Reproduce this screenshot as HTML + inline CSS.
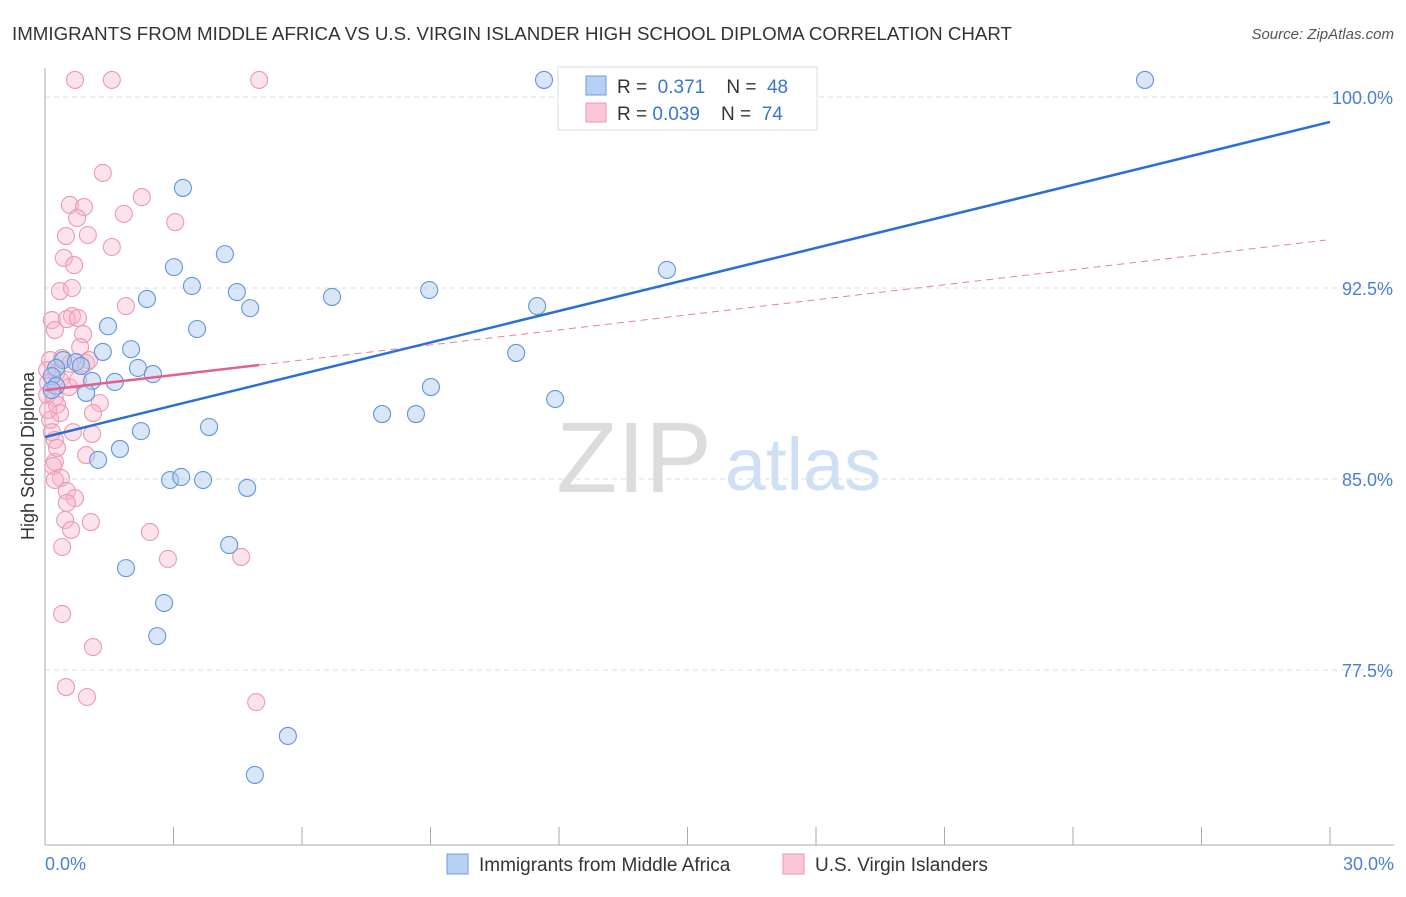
<!DOCTYPE html>
<html><head><meta charset="utf-8"><style>
body{margin:0;background:#fff;font-family:"Liberation Sans",sans-serif;}
svg text{font-family:"Liberation Sans",sans-serif;}
</style></head><body>
<svg id="chart" width="1406" height="892" xmlns="http://www.w3.org/2000/svg">
<text x="12" y="40" font-size="18" fill="#333" textLength="1000" lengthAdjust="spacingAndGlyphs">IMMIGRANTS FROM MIDDLE AFRICA VS U.S. VIRGIN ISLANDER HIGH SCHOOL DIPLOMA CORRELATION CHART</text>
<text x="1394" y="39" font-size="15" fill="#555" text-anchor="end" font-style="italic">Source: ZipAtlas.com</text>
<g>
<text x="634" y="492" font-size="100" fill="#dcdcdc" text-anchor="middle" font-family="Liberation Serif, serif">ZIP</text>
<text x="803" y="490" font-size="74" fill="#cfe0f5" text-anchor="middle">atlas</text>
</g>
<g id="grid"></g>
<g id="axes"></g>
<g id="marks"></g>
<text transform="translate(34,456) rotate(-90)" font-size="18" fill="#333" text-anchor="middle">High School Diploma</text>
<g>
<rect x="558" y="67" width="259" height="63" fill="#fff" stroke="#ddd"/>
<rect x="586" y="76" width="20" height="19" fill="#b8d0f3" stroke="#6d9be0"/>
<rect x="586" y="103" width="20" height="19" fill="#f9c6d5" stroke="#eb9ab4"/>
<text x="617" y="93" font-size="19" fill="#333">R = <tspan fill="#3a74d4">&#160;0.371</tspan>&#160;&#160;&#160; N = <tspan fill="#3a74d4">&#160;48</tspan></text>
<text x="617" y="120" font-size="19" fill="#333">R = <tspan fill="#3a74d4">0.039</tspan>&#160;&#160;&#160; N = <tspan fill="#3a74d4">&#160;74</tspan></text>
</g>
<g>
<rect x="447" y="854" width="21" height="20" fill="#b8d0f3" stroke="#6d9be0"/>
<text x="479" y="871" font-size="19" fill="#333">Immigrants from Middle Africa</text>
<rect x="783" y="854" width="21" height="20" fill="#f9c6d5" stroke="#eb9ab4"/>
<text x="815" y="871" font-size="19" fill="#333">U.S. Virgin Islanders</text>
</g>
</svg>
<script>
const yTicks=[100,92.5,85,77.5];
const yTickLabels=["100.0%","92.5%","85.0%","77.5%"];
const xEdgeLabels=["0.0%","30.0%"];
const blueX=[11.65,25.68,3.22,4.20,3.01,14.52,3.43,4.48,2.38,6.70,8.97,4.79,11.49,1.47,3.55,2.01,1.35,11.00,0.42,0.72,2.17,2.52,0.84,0.26,0.16,1.10,1.63,9.01,0.96,0.26,0.16,7.87,8.66,11.91,2.24,3.83,1.75,1.24,2.92,3.18,3.69,4.72,4.30,1.89,2.78,2.62,5.67,4.90];
const blueY=[100.67,100.67,96.43,93.83,93.32,93.21,92.58,92.34,92.07,92.15,92.42,91.71,91.79,91.00,90.89,90.10,89.99,89.95,89.67,89.59,89.36,89.12,89.44,89.36,89.04,88.85,88.81,88.61,88.38,88.65,88.49,87.55,87.55,88.14,86.88,87.04,86.18,85.75,84.96,85.08,84.96,84.65,82.41,81.50,80.13,78.83,74.91,73.38];
const pinkX=[0.70,1.56,5.00,1.35,2.26,0.58,0.91,1.84,0.75,3.04,0.49,1.00,1.56,0.44,0.68,0.35,0.63,1.89,0.16,0.63,0.51,0.77,0.23,0.89,0.82,0.96,0.12,0.40,1.03,0.05,0.26,0.07,0.35,0.56,0.05,0.23,0.28,1.28,1.12,0.35,0.12,0.16,0.65,1.10,0.23,0.96,0.23,0.19,0.28,0.37,0.23,0.51,0.70,0.51,1.07,0.47,0.61,0.40,2.45,2.87,4.58,0.40,1.12,0.49,0.98,4.93,0.07,0.77,0.58];
const pinkY=[100.67,100.67,100.67,97.02,96.07,95.76,95.68,95.41,95.25,95.09,94.54,94.58,94.11,93.68,93.40,92.38,92.50,91.79,91.24,91.40,91.28,91.32,90.85,90.69,90.18,89.55,89.67,89.75,89.67,89.28,89.16,88.77,88.89,88.61,88.30,88.18,87.91,87.98,87.59,87.59,87.32,86.84,86.84,86.77,86.53,85.94,85.67,85.51,86.22,85.04,84.96,84.53,84.25,84.06,83.31,83.39,83.00,82.33,82.92,81.86,81.94,79.70,78.40,76.83,76.44,76.24,87.71,88.89,89.52];
const blueTrend=[86.65,99.02];
const pinkTrend=[88.49,94.4];
const pinkSolidEnd=5.0;

const NS="http://www.w3.org/2000/svg";
const X0=45,X1=1330,Y100=97,PX_PER=191/7.5;
function sx(v){return X0+(v/30)*(X1-X0);}
function sy(v){return Y100+(100-v)*PX_PER;}
function mk(tag,attrs,parent){const e=document.createElementNS(NS,tag);for(const k in attrs)e.setAttribute(k,attrs[k]);parent.appendChild(e);return e;}
const grid=document.getElementById('grid'),axes=document.getElementById('axes'),marks=document.getElementById('marks');
yTicks.forEach((t,i)=>{
  const l=mk('line',{x1:X0,x2:1394,y1:sy(t),y2:sy(t),stroke:'#ddd','stroke-dasharray':'5,4'},grid);
  
  
  const tx=mk('text',{x:1393,y:sy(t)+7,'font-size':18,fill:'#4a7fd6','text-anchor':'end'},axes);
  tx.textContent=yTickLabels[i];
  
  
});
const la=mk('line',{x1:X0,x2:X0,y1:68,y2:845,stroke:'#aaa'},axes);


const ba=mk('line',{x1:X0,x2:1394,y1:845,y2:845,stroke:'#aaa'},axes);


for(let i=0;i<=10;i++){
  const tk=mk('line',{x1:sx(i*3),x2:sx(i*3),y1:827,y2:845,stroke:'#aaa'},axes);
  
  
}
const xl0=mk('text',{x:45,y:870,'font-size':18,fill:'#4a7fd6'},axes);xl0.textContent=xEdgeLabels[0];


const xl1=mk('text',{x:1394,y:870,'font-size':18,fill:'#4a7fd6','text-anchor':'end'},axes);xl1.textContent=xEdgeLabels[1];



pinkX.forEach((v,i)=>{
  const c=mk('circle',{cx:sx(v),cy:sy(pinkY[i]),r:8.5,fill:'rgba(248,180,202,0.38)',stroke:'#eb9ab4','stroke-width':1.1},marks);
  
  
});
blueX.forEach((v,i)=>{
  const c=mk('circle',{cx:sx(v),cy:sy(blueY[i]),r:8.5,fill:'rgba(170,200,240,0.45)',stroke:'#6196dd','stroke-width':1.1},marks);
  
  
});
function trendAt(tr,x){return tr[0]+(tr[1]-tr[0])*x/30;}
const pd=mk('line',{x1:sx(pinkSolidEnd),y1:sy(trendAt(pinkTrend,pinkSolidEnd)),x2:sx(29.9),y2:sy(trendAt(pinkTrend,29.9)),stroke:'#e880a0','stroke-width':1,'stroke-dasharray':'7,5'},marks);


const bt=mk('line',{x1:sx(0),y1:sy(blueTrend[0]),x2:sx(30),y2:sy(blueTrend[1]),stroke:'#2a6fd6','stroke-width':2.5},marks);


const pt=mk('line',{x1:sx(0),y1:sy(pinkTrend[0]),x2:sx(pinkSolidEnd),y2:sy(trendAt(pinkTrend,pinkSolidEnd)),stroke:'#e35f8c','stroke-width':2.5},marks);


</script>
</body></html>
